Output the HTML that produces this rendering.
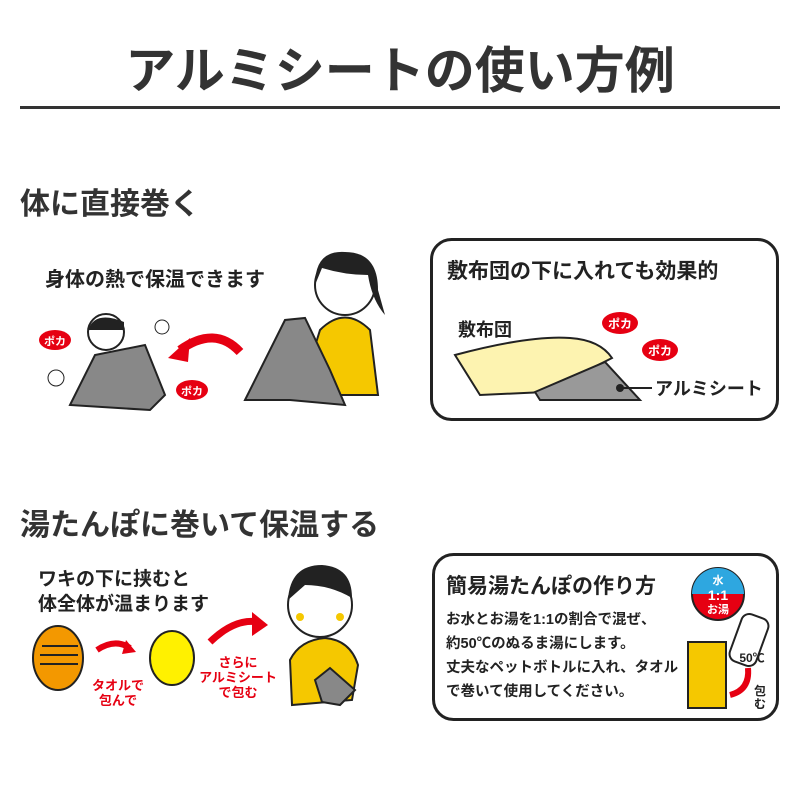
<!DOCTYPE html>
<html><head><meta charset="utf-8"><style>
body{margin:0;background:#fff}
svg text{font-family:"Liberation Sans","Noto Sans CJK JP",sans-serif;font-weight:bold}
</style></head><body>
<svg width="800" height="800" viewBox="0 0 800 800" xmlns="http://www.w3.org/2000/svg">
<rect width="800" height="800" fill="#fff"/>
<text x="400" y="88" font-size="50" text-anchor="middle" fill="#333">アルミシートの使い方例</text>
<rect x="20" y="106" width="760" height="3" fill="#333"/>
<text x="20" y="214" font-size="30" fill="#333">体に直接巻く</text>
<text x="45" y="286" font-size="20" fill="#222">身体の熱で保温できます</text>
<!-- left illustration 1 -->
<polygon points="70,405 95,355 145,345 165,395 150,410" fill="#888" stroke="#222" stroke-width="2"/>
<circle cx="106" cy="332" r="18" fill="#fff" stroke="#222" stroke-width="2"/>
<path d="M88,330 Q95,310 124,322 L124,330 Z" fill="#222"/>
<path d="M240,352 Q215,325 180,350" stroke="#e60012" stroke-width="9" fill="none"/>
<polygon points="168,358 190,338 188,362" fill="#e60012"/>
<ellipse cx="55" cy="340" rx="16" ry="10" fill="#e60012"/><text x="55" y="345" font-size="11" fill="#fff" text-anchor="middle">ポカ</text>
<ellipse cx="192" cy="390" rx="16" ry="10" fill="#e60012"/><text x="192" y="395" font-size="11" fill="#fff" text-anchor="middle">ポカ</text>
<circle cx="162" cy="327" r="7" fill="none" stroke="#222"/><circle cx="56" cy="378" r="8" fill="none" stroke="#222"/>
<!-- woman -->
<path d="M300,395 L320,330 Q345,305 370,330 L378,395 Z" fill="#f5c800" stroke="#222" stroke-width="2"/>
<circle cx="345" cy="285" r="30" fill="#fff" stroke="#222" stroke-width="2"/>
<path d="M315,285 Q315,250 345,252 Q378,252 378,290 L385,315 Q372,300 368,275 Q345,275 322,268 Z" fill="#222"/>
<polygon points="245,400 285,320 305,318 330,370 345,405 290,400" fill="#888" stroke="#222" stroke-width="2"/>
<!-- box 1 -->
<rect x="431.5" y="239.5" width="346" height="180" rx="20" fill="#fff" stroke="#222" stroke-width="3"/>
<text x="447" y="278" font-size="21" fill="#222">敷布団の下に入れても効果的</text>
<text x="458" y="336" font-size="18" fill="#222" font-weight="normal">敷布団</text>
<path d="M455,355 Q530,335 570,338 Q600,340 612,358 L545,392 L480,395 Z" fill="#fdf3b0" stroke="#222" stroke-width="2"/>
<path d="M535,392 L605,362 L640,400 L540,400 Z" fill="#999" stroke="#222" stroke-width="2"/>
<circle cx="620" cy="388" r="4" fill="#222"/><line x1="620" y1="388" x2="652" y2="388" stroke="#222" stroke-width="2"/>
<text x="655" y="395" font-size="18" fill="#222" font-weight="normal">アルミシート</text>
<ellipse cx="620" cy="323" rx="18" ry="11" fill="#e60012"/><text x="620" y="328" font-size="12" fill="#fff" text-anchor="middle">ポカ</text>
<ellipse cx="660" cy="350" rx="18" ry="11" fill="#e60012"/><text x="660" y="355" font-size="12" fill="#fff" text-anchor="middle">ポカ</text>
<text x="20" y="535" font-size="30" fill="#333">湯たんぽに巻いて保温する</text>
<text x="38" y="585" font-size="19" fill="#222">ワキの下に挟むと</text>
<text x="38" y="610" font-size="19" fill="#222">体全体が温まります</text>
<!-- hot water bottle -->
<ellipse cx="58" cy="658" rx="25" ry="32" fill="#f39800" stroke="#222" stroke-width="2"/>
<line x1="42" y1="646" x2="78" y2="646" stroke="#222" stroke-width="2"/><line x1="40" y1="655" x2="78" y2="655" stroke="#222" stroke-width="2"/><line x1="40" y1="664" x2="78" y2="664" stroke="#222" stroke-width="2"/>
<path d="M97,650 Q115,638 130,648" stroke="#e60012" stroke-width="6" fill="none"/><polygon points="126,640 136,652 122,654" fill="#e60012"/>
<text x="118" y="690" font-size="13" fill="#e60012" text-anchor="middle">タオルで</text>
<text x="118" y="705" font-size="13" fill="#e60012" text-anchor="middle">包んで</text>
<ellipse cx="172" cy="658" rx="22" ry="27" fill="#fff100" stroke="#222" stroke-width="2"/>
<path d="M210,642 Q235,618 258,622" stroke="#e60012" stroke-width="7" fill="none"/><polygon points="252,612 268,625 252,636" fill="#e60012"/>
<text x="238" y="667" font-size="13" fill="#e60012" text-anchor="middle">さらに</text>
<text x="238" y="682" font-size="13" fill="#e60012" text-anchor="middle">アルミシート</text>
<text x="238" y="697" font-size="13" fill="#e60012" text-anchor="middle">で包む</text>
<!-- child -->
<path d="M292,705 L290,660 Q300,640 325,638 Q350,640 358,665 L352,700 Z" fill="#f5c800" stroke="#222" stroke-width="2"/>
<circle cx="320" cy="605" r="32" fill="#fff" stroke="#222" stroke-width="2"/>
<path d="M288,600 Q290,565 322,565 Q352,567 352,598 Q330,585 305,585 Z" fill="#222"/>
<circle cx="300" cy="617" r="4" fill="#f5c800"/><circle cx="340" cy="617" r="4" fill="#f5c800"/>
<polygon points="315,680 330,668 355,690 340,705 322,702" fill="#888" stroke="#222" stroke-width="2"/>
<!-- box 2 -->
<rect x="433.5" y="554.5" width="344" height="165" rx="20" fill="#fff" stroke="#222" stroke-width="3"/>
<text x="446" y="593" font-size="21" fill="#222">簡易湯たんぽの作り方</text>
<g font-size="14.5" font-weight="normal" fill="#222">
<text x="446" y="624">お水とお湯を1:1の割合で混ぜ、</text>
<text x="446" y="648">約50℃のぬるま湯にします。</text>
<text x="446" y="672">丈夫なペットボトルに入れ、タオル</text>
<text x="446" y="696">で巻いて使用してください。</text>
</g>
<circle cx="718" cy="594" r="26" fill="#e60012" stroke="#222" stroke-width="2"/>
<path d="M692,594 A26,26 0 0 1 744,594 Z" fill="#2ea7e0"/>
<text x="718" y="584" font-size="11" fill="#fff" text-anchor="middle">水</text>
<text x="718" y="600" font-size="14" fill="#fff" text-anchor="middle">1:1</text>
<text x="718" y="613" font-size="11" fill="#fff" text-anchor="middle">お湯</text>
<rect x="735" y="615" width="28" height="50" rx="8" fill="#fff" stroke="#222" stroke-width="2" transform="rotate(20 749 640)"/>
<text x="752" y="662" font-size="12" fill="#222" text-anchor="middle">50℃</text>
<rect x="688" y="642" width="38" height="66" fill="#f5c800" stroke="#222" stroke-width="2"/>
<path d="M748,668 Q750,690 730,695" stroke="#e60012" stroke-width="6" fill="none"/>
<text x="760" y="695" font-size="12" fill="#222" text-anchor="middle">包</text>
<text x="760" y="708" font-size="12" fill="#222" text-anchor="middle">む</text>
</svg>
</body></html>
